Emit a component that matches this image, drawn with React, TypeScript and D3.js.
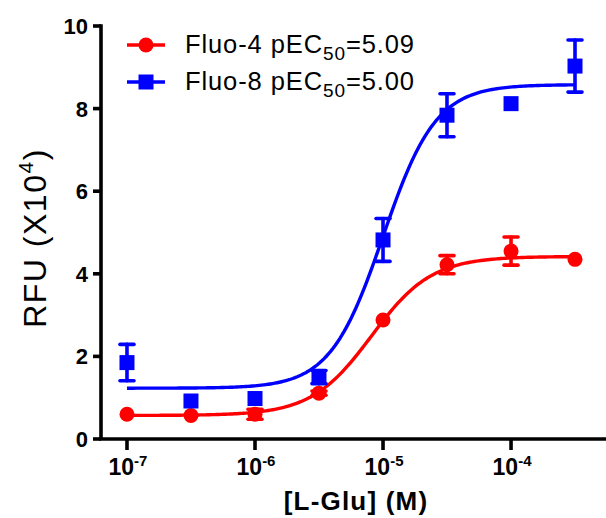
import React, { useRef, useEffect } from "react";
import * as d3 from "d3";

// concentrations of L-Glu (M)
const concentrations = [1e-7, 3.16e-7, 1e-6, 3.16e-6, 1e-5, 3.16e-5, 1e-4, 3.16e-4];

// Fluo-4 means and SEM (x10^4 RFU)
const fluo4Mean = [0.6, 0.57, 0.6, 1.11, 2.88, 4.22, 4.55, 4.35];
const fluo4Err = [0.0, 0.0, 0.12, 0.05, 0.0, 0.22, 0.34, 0.0];

// Fluo-8 means and SEM
const fluo8Mean = [1.85, 0.92, 0.98, 1.5, 4.82, 7.84, 8.12, 9.03];
const fluo8Err = [0.44, 0.0, 0.0, 0.16, 0.52, 0.52, 0.0, 0.63];

// fitted 4-parameter logistic curves: bottom, top, logEC50, hill
const fluo4Fit = { bottom: 0.57, top: 4.42, logEC50: -5.09, hill: 1.85 };
const fluo8Fit = { bottom: 1.23, top: 8.58, logEC50: -5.0, hill: 2.1 };

const yTicks = [0, 2, 4, 6, 8, 10];
const xTicks = [1e-7, 1e-6, 1e-5, 1e-4];
const xTickExp = ["-7", "-6", "-5", "-4"];

const legendLabels = [
  { name: "Fluo-4 pEC", sub: "50", rest: "=5.09" },
  { name: "Fluo-8 pEC", sub: "50", rest: "=5.00" },
];

const RED = "#ff0000";
const BLUE = "#0000ff";

function App() {
  const svgRef = useRef(null);

  useEffect(() => {
    const svg = d3.select(svgRef.current);
    svg.selectAll("*").remove();

    const x = d3
      .scaleLog()
      .domain([Math.pow(10, -7.203), Math.pow(10, -3.266)])
      .range([101, 605]);
    const y = d3.scaleLinear().domain([0, 10]).range([439, 26]);

    const font = "Arial, 'Liberation Sans', sans-serif";

    // axes
    const axes = svg.append("g").attr("stroke", "#000").attr("stroke-width", 3.6);
    axes.append("line").attr("x1", 101).attr("x2", 101).attr("y1", y(10) - 1.8).attr("y2", y(0));
    axes.append("line").attr("x1", 99.2).attr("x2", 606).attr("y1", y(0)).attr("y2", y(0));

    yTicks.forEach((t) => {
      axes.append("line").attr("x1", 93).attr("x2", 101).attr("y1", y(t)).attr("y2", y(t));
      svg
        .append("text")
        .attr("x", 88)
        .attr("y", y(t))
        .attr("dy", "0.36em")
        .attr("text-anchor", "end")
        .attr("font-family", font)
        .attr("font-weight", "bold")
        .attr("font-size", 22)
        .text(t);
    });

    xTicks.forEach((t, i) => {
      axes.append("line").attr("x1", x(t)).attr("x2", x(t)).attr("y1", y(0)).attr("y2", y(0) + 11);
      const lbl = svg
        .append("text")
        .attr("x", x(t) + 1)
        .attr("y", 475)
        .attr("text-anchor", "middle")
        .attr("font-family", font)
        .attr("font-weight", "bold")
        .attr("font-size", 23);
      lbl.append("tspan").text("10");
      lbl.append("tspan").attr("dy", -9).attr("font-size", 15).text(xTickExp[i]);
    });

    // axis titles
    svg
      .append("text")
      .attr("x", 356)
      .attr("y", 510)
      .attr("text-anchor", "middle")
      .attr("font-family", font)
      .attr("font-weight", "bold")
      .attr("font-size", 26)
      .attr("letter-spacing", 1.2)
      .text("[L-Glu] (M)");

    const yt = svg
      .append("text")
      .attr("transform", "translate(46,238) rotate(-90)")
      .attr("text-anchor", "middle")
      .attr("font-family", font)
      .attr("font-size", 32)
      .attr("letter-spacing", 1.5);
    yt.append("tspan").text("RFU (X10");
    yt.append("tspan").attr("dy", -13).attr("font-size", 21).text("4");
    yt.append("tspan").attr("dy", 13).text(")");

    // fitted curves
    const logLo = Math.log10(concentrations[0]);
    const logHi = Math.log10(concentrations[concentrations.length - 1]);
    const curveX = d3.range(0, 201).map((i) => Math.pow(10, logLo + ((logHi - logLo) * i) / 200));
    const fourPL = (f, c) => f.bottom + (f.top - f.bottom) / (1 + Math.pow(10, (f.logEC50 - Math.log10(c)) * f.hill));

    const line = d3
      .line()
      .x((d) => x(d[0]))
      .y((d) => y(d[1]));

    const series = [
      { mean: fluo4Mean, err: fluo4Err, fit: fluo4Fit, color: RED, shape: "circle" },
      { mean: fluo8Mean, err: fluo8Err, fit: fluo8Fit, color: BLUE, shape: "square" },
    ];

    series.forEach((s) => {
      svg
        .append("path")
        .datum(curveX.map((c) => [c, fourPL(s.fit, c)]))
        .attr("fill", "none")
        .attr("stroke", s.color)
        .attr("stroke-width", 3.4)
        .attr("d", line);
    });

    series.forEach((s) => {
      const g = svg.append("g");
      // error bars
      concentrations.forEach((c, i) => {
        if (!s.err[i]) return;
        const cx = x(c);
        const eb = g.append("g").attr("stroke", s.color).attr("stroke-width", 3.6).attr("stroke-linecap", "round");
        eb.append("line").attr("x1", cx).attr("x2", cx).attr("y1", y(s.mean[i] + s.err[i])).attr("y2", y(s.mean[i] - s.err[i]));
        [s.mean[i] + s.err[i], s.mean[i] - s.err[i]].forEach((v) => {
          eb.append("line").attr("x1", cx - 7).attr("x2", cx + 7).attr("y1", y(v)).attr("y2", y(v));
        });
      });
      // markers
      if (s.shape === "circle") {
        g.selectAll("circle")
          .data(concentrations)
          .join("circle")
          .attr("cx", (c) => x(c))
          .attr("cy", (c, i) => y(s.mean[i]))
          .attr("r", 7.5)
          .attr("fill", s.color);
      } else {
        g.selectAll("rect")
          .data(concentrations)
          .join("rect")
          .attr("x", (c) => x(c) - 7.5)
          .attr("y", (c, i) => y(s.mean[i]) - 7.5)
          .attr("width", 15)
          .attr("height", 15)
          .attr("fill", s.color);
      }
    });

    // legend
    legendLabels.forEach((l, i) => {
      const ly = 45 + i * 37;
      const s = series[i];
      svg.append("line").attr("x1", 127).attr("x2", 165).attr("y1", ly).attr("y2", ly).attr("stroke", s.color).attr("stroke-width", 3.6);
      if (s.shape === "circle") {
        svg.append("circle").attr("cx", 146).attr("cy", ly).attr("r", 7.5).attr("fill", s.color);
      } else {
        svg.append("rect").attr("x", 138.5).attr("y", ly - 7.5).attr("width", 15).attr("height", 15).attr("fill", s.color);
      }
      const t = svg
        .append("text")
        .attr("x", 185)
        .attr("y", ly + 7.5)
        .attr("font-family", font)
        .attr("font-size", 25.5)
        .attr("letter-spacing", 0.9);
      t.append("tspan").text(l.name);
      t.append("tspan").attr("dy", 7).attr("font-size", 19).text(l.sub);
      t.append("tspan").attr("dy", -7).text(l.rest);
    });
  }, []);

  return (
    <div style={{ position: "absolute", left: 0, top: 0 }}>
      <svg ref={svgRef} width={606} height={518} style={{ display: "block", background: "#fff" }} />
    </div>
  );
}

export default App;
